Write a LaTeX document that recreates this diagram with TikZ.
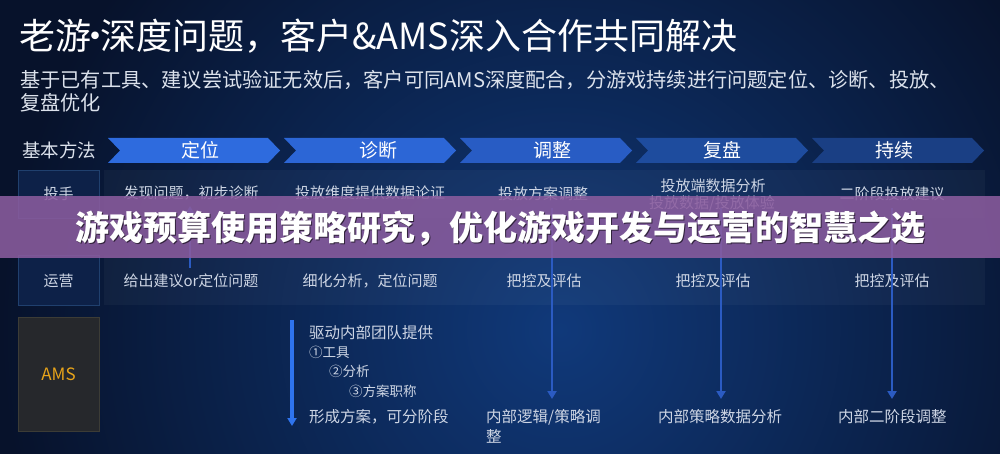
\documentclass[tikz,border=0pt]{standalone}
\usepackage{fontspec}
\setmainfont{Noto Sans CJK SC}
\usetikzlibrary{arrows.meta}
\definecolor{bgOut}{HTML}{07122B}
\definecolor{bgIn}{HTML}{10397A}
\definecolor{chevA}{HTML}{2E6BDE}
\definecolor{chevB}{HTML}{2C66D6}
\definecolor{chevC}{HTML}{285CC4}
\definecolor{chevD}{HTML}{1E4C9E}
\definecolor{chevE}{HTML}{1A3F84}
\definecolor{rowTxt}{HTML}{CDD5E4}
\definecolor{subTxt}{HTML}{DCE2EC}
\definecolor{boxFill}{HTML}{0D2148}
\definecolor{boxLine}{HTML}{20406E}
\definecolor{amsFill}{HTML}{26282C}
\definecolor{amsLine}{HTML}{3C3C36}
\definecolor{amsTxt}{HTML}{E8A41A}
\definecolor{arrBlue}{HTML}{2B5BC2}
\definecolor{arrBright}{HTML}{2F74EE}
\definecolor{banner}{HTML}{8A5C9E}
\tikzset{
  rowtext/.style={text=rowTxt, font=\fontsize{15}{18}\selectfont, inner sep=0pt},
  amstext/.style={text=rowTxt, font=\fontsize{15.5}{18}\selectfont, inner sep=0pt, anchor=west},
  smalltext/.style={text=rowTxt, font=\fontsize{13.5}{16}\selectfont, inner sep=0pt, anchor=west},
  chevlabel/.style={text=white, font=\fontsize{19}{22}\selectfont, inner sep=0pt},
  leftbox/.style={draw=boxLine, fill=boxFill, line width=0.8pt},
  flowarrow/.style={draw=arrBlue, line width=2.6pt, -{Triangle[width=9pt,length=8pt]}},
}
\newcommand{\chevshape}[2]{%
  \fill[#2] (#1,138) -- ++(160,0) -- ++(12,12.5) -- ++(-12,12.5) -- ++(-160,0) -- ++(12,-12.5) -- cycle;}
\begin{document}
\begin{tikzpicture}[x=1pt,y=-1pt]
\useasboundingbox (0,0) rectangle (1000,454);
% background
\begin{scope}
\clip (0,0) rectangle (1000,454);
\fill[bgOut] (0,0) rectangle (1000,454);
\shade[inner color=bgIn, outer color=bgOut] (560,330) circle (560);
\end{scope}
% title
\node[anchor=west, text=white, font=\fontsize{36}{42}\selectfont, inner sep=0pt] (title) at (19,36) {老游\makebox[9pt][c]{·}深度问题，客户\&AMS深入合作共同解决};
\node[anchor=west, text=subTxt, font=\fontsize{20.2}{24}\selectfont, inner sep=0pt] (sub1) at (20,80) {基于已有工具、建议尝试验证无效后，客户可同AMS深度配合，分游戏持续进行问题定位、诊断、投放、};
\node[anchor=west, text=subTxt, font=\fontsize{20.2}{24}\selectfont, inner sep=0pt] (sub2) at (20,103) {复盘优化};
% header
\node[anchor=west, text=subTxt, font=\fontsize{18.5}{22}\selectfont, inner sep=0pt] (method) at (22,150) {基本方法};
\chevshape{108}{chevA}
\chevshape{284}{chevB}
\chevshape{460}{chevC}
\chevshape{636}{chevD}
\chevshape{812}{chevE}
\node[chevlabel] (h1) at (200,150.5) {定位};
\node[chevlabel] (h2) at (378,150.5) {诊断};
\node[chevlabel] (h3) at (552,150.5) {调整};
\node[chevlabel] (h4) at (722,150.5) {复盘};
\node[chevlabel] (h5) at (894,150.5) {持续};
% row bands
\fill[white, opacity=0.035] (104,170) rectangle (985,218);
\fill[white, opacity=0.035] (104,255) rectangle (985,305);
% left boxes
\draw[leftbox] (18,170) rectangle (99,218);
\node[text=rowTxt, font=\fontsize{15}{18}\selectfont] (r1) at (58.5,194) {投手};
\draw[leftbox] (18,255) rectangle (99,305);
\node[text=rowTxt, font=\fontsize{15}{18}\selectfont] (r2) at (58.5,281) {运营};
\draw[draw=amsLine, fill=amsFill, line width=0.8pt] (18,317) rectangle (99,431);
\node[text=amsTxt, font=\fontsize{17}{20}\selectfont] (r3) at (58.5,374) {AMS};
% row 1 texts
\node[rowtext] (t11) at (191,193) {发现问题，初步诊断};
\node[rowtext] (t12) at (370,193) {投放维度提供数据论证};
\node[rowtext] (t13) at (543,194) {投放方案调整};
\node[rowtext] (t14a) at (713,186) {投放端数据分析};
\node[rowtext] (t14b) at (712,203) {投放数据/投放体验};
\node[rowtext] (t15) at (892,194) {二阶段投放建议};
% row 2 texts
\node[rowtext] (t21) at (191,281) {给出建议or定位问题};
\node[rowtext] (t22) at (370,281) {细化分析，定位问题};
\node[rowtext] (t23) at (544,281) {把控及评估};
\node[rowtext] (t24) at (713,281) {把控及评估};
\node[rowtext] (t25) at (892,281) {把控及评估};
% AMS row texts
\node[amstext] (a1) at (309,333) {驱动内部团队提供};
\node[smalltext] (a2) at (309,352) {①工具};
\node[smalltext] (a3) at (329,371) {②分析};
\node[smalltext] (a4) at (349,391) {③方案职称};
\node[amstext] (a5) at (309,417) {形成方案，可分阶段};
\node[amstext] (b3a) at (486,417) {内部逻辑/策略调};
\node[amstext] (b3b) at (486,436) {整};
\node[amstext] (b4) at (658,417) {内部策略数据分析};
\node[amstext] (b5) at (838,417) {内部二阶段调整};
% arrows
\coordinate (u1s) at (190,268);
\coordinate (u1e) at (190,206);
\draw[flowarrow, line width=2pt] (u1s) -- (u1e);
\coordinate (d2s) at (292,320);
\coordinate (d2e) at (292,426);
\draw[flowarrow, draw=arrBright, line width=3.4pt] (d2s) -- (d2e);
\coordinate (d3s) at (552,208);
\coordinate (d3e) at (552,399);
\draw[flowarrow] (d3s) -- (d3e);
\coordinate (d4s) at (721,208);
\coordinate (d4e) at (721,399);
\draw[flowarrow] (d4s) -- (d4e);
\coordinate (d5s) at (892,208);
\coordinate (d5e) at (892,399);
\draw[flowarrow] (d5s) -- (d5e);
% banner
\fill[banner, opacity=0.88] (0,196) rectangle (1000,258);
\node[text=black, opacity=0.6, font=\fontsize{34}{40}\selectfont\bfseries] (bannershadow) at (501.5,229.5) {游戏预算使用策略研究，优化游戏开发与运营的智慧之选};
\node[text=white, font=\fontsize{34}{40}\selectfont\bfseries] (bannertext) at (500,228) {游戏预算使用策略研究，优化游戏开发与运营的智慧之选};
\end{tikzpicture}
\end{document}
